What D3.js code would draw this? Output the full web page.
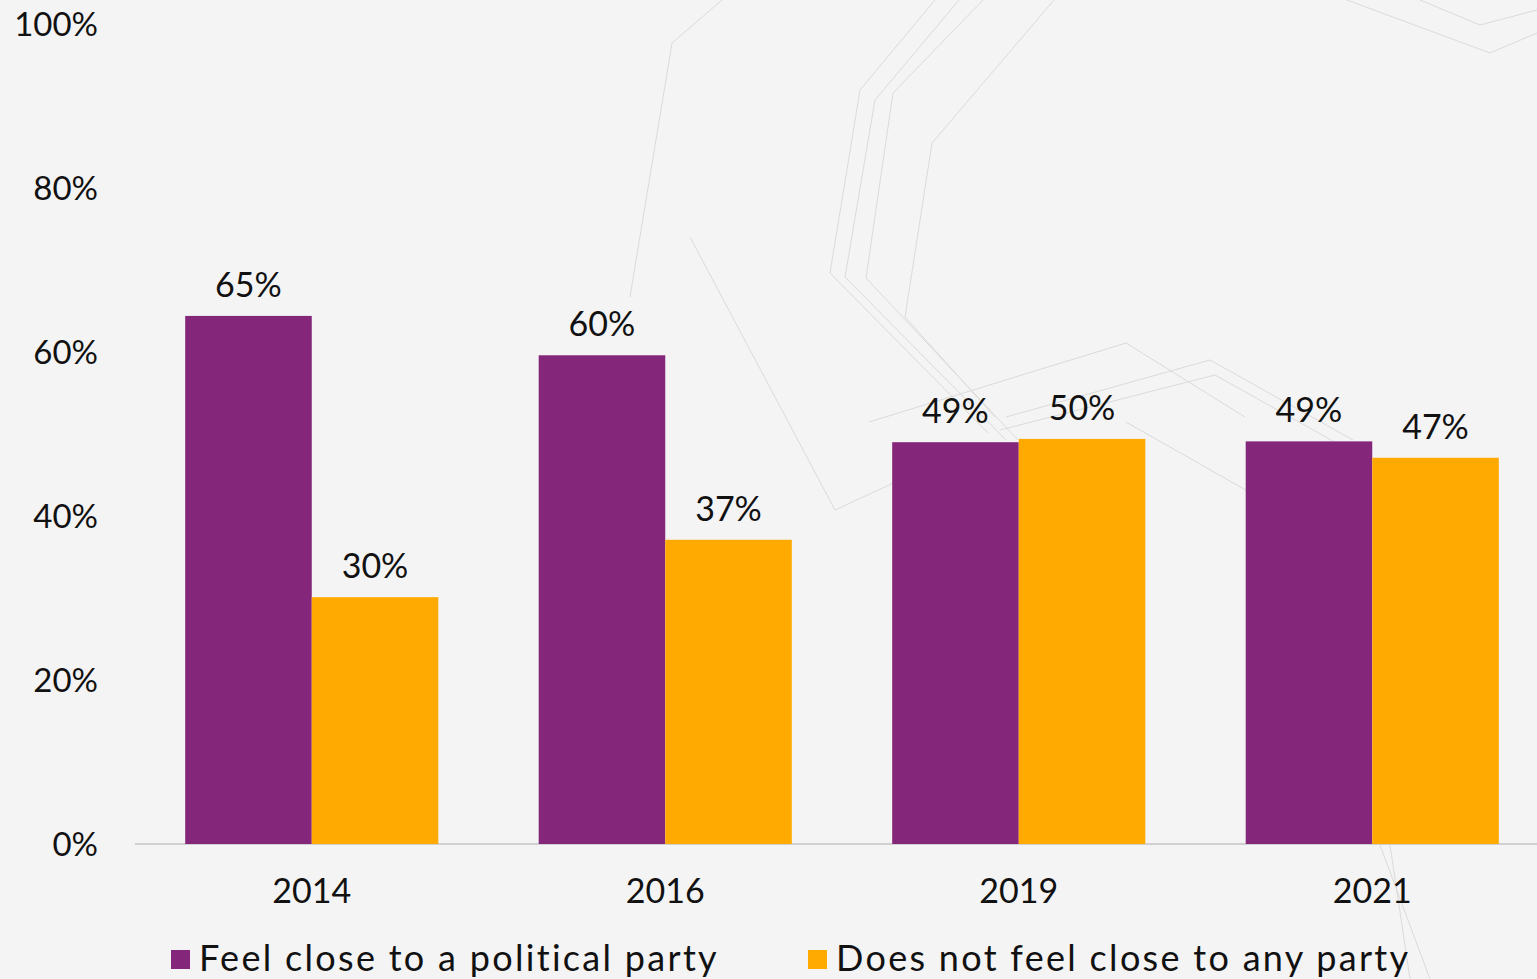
<!DOCTYPE html>
<html><head><meta charset="utf-8">
<script src="https://cdn.jsdelivr.net/npm/d3@7"></script>
<style>
html,body{margin:0;padding:0;background:#f4f4f4;overflow:hidden}
svg{display:block}
text{font-family:"Lato","Open Sans",sans-serif;fill:#111}
</style></head><body>
<script>
const years = ["2014","2016","2019","2021"];
const seriesNames = ["Feel close to a political party","Does not feel close to any party"];
const closeValues = [64.4, 59.6, 49.0, 49.1];
const notCloseValues = [30.1, 37.1, 49.4, 47.1];
const closeLabels = ["65%","60%","49%","49%"];
const notCloseLabels = ["30%","37%","50%","47%"];
const yTicks = [0,20,40,60,80,100];
const colors = ["#84267a","#ffaa00"];

const W = 1537, H = 979;
const svg = d3.select("body").append("svg").attr("width",W).attr("height",H);
svg.append("rect").attr("width",W).attr("height",H).attr("fill","#f4f4f4");

// faint decorative background lines
const deco = svg.append("g").attr("fill","none").attr("stroke","#dadada").attr("stroke-width",1);
[
 [[722,0],[672,43],[630,297]],
 [[690,237],[835,510],[900,480]],
 [[935,0],[860,90],[830,273],[988,433]],
 [[959,0],[875,100],[845,277],[1006,440]],
 [[983,0],[893,93],[866,278],[1018,440]],
 [[1054,0],[932,143],[905,317],[995,417]],
 [[869,422],[1126,343],[1245,417]],
 [[1006,417],[1210,360],[1353,440]],
 [[1000,430],[1215,375],[1340,445]],
 [[1126,422],[1251,493]],
 [[1347,0],[1490,53],[1537,33]],
 [[1420,0],[1480,25],[1537,10]],
 [[1390,845],[1410,979]],[[1380,845],[1430,979]]
].forEach(p=>deco.append("path").attr("d",d3.line()(p)));

const x = d3.scaleBand().domain(years).range([135,1549]).paddingInner(0.284).paddingOuter(0.142);
const x1 = d3.scaleBand().domain([0,1]).range([0,x.bandwidth()]);
const y = d3.scaleLinear().domain([0,100]).range([844,24]);

// y tick labels
svg.append("g").selectAll("text").data(yTicks).join("text")
  .attr("x",98).attr("y",d=>y(d)).attr("dy","0.36em").attr("text-anchor","end")
  .attr("font-size",33).text(d=>d+"%");

// axis line
svg.append("line").attr("x1",135).attr("x2",W).attr("y1",y(0)).attr("y2",y(0))
  .attr("stroke","#d0d0d0").attr("stroke-width",2);

const series = [closeValues, notCloseValues];
const labels = [closeLabels, notCloseLabels];
series.forEach((vals,si)=>{
  const g = svg.append("g");
  g.selectAll("rect").data(years).join("rect")
    .attr("x",d=>x(d)+x1(si)).attr("width",x1.bandwidth())
    .attr("y",(d,i)=>y(vals[i])).attr("height",(d,i)=>y(0)-y(vals[i]))
    .attr("fill",colors[si]);
  g.selectAll("text").data(years).join("text")
    .attr("x",d=>x(d)+x1(si)+x1.bandwidth()/2)
    .attr("y",(d,i)=>y(vals[i])-19).attr("text-anchor","middle")
    .attr("font-size",34).text((d,i)=>labels[si][i]);
});

// x labels
svg.append("g").selectAll("text").data(years).join("text")
  .attr("x",d=>x(d)+x.bandwidth()/2).attr("y",903).attr("text-anchor","middle")
  .attr("font-size",34).text(d=>d);

// legend
const legX = [171, 808];
seriesNames.forEach((n,i)=>{
  svg.append("rect").attr("x",legX[i]).attr("y",950).attr("width",19).attr("height",19).attr("fill",colors[i]);
  svg.append("text").attr("x",legX[i]+28).attr("y",971).attr("font-size",36)
    .attr("letter-spacing",2.3).text(n);
});
</script>
</body></html>
